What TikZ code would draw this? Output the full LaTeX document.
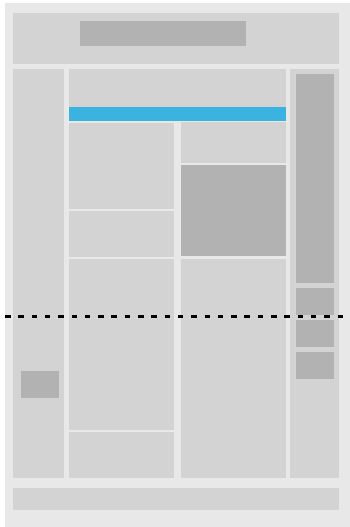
\documentclass[tikz,border=0pt]{standalone}
\definecolor{bgc}{HTML}{E8E8E8}
\definecolor{panel}{HTML}{D3D3D3}
\definecolor{darkp}{HTML}{B2B2B2}
\definecolor{bluebar}{HTML}{3BB3E0}
\begin{document}
\begin{tikzpicture}[x=1pt,y=-1pt,
  bg/.style={fill=bgc},
  pnl/.style={fill=panel},
  dk/.style={fill=darkp},
  bl/.style={fill=bluebar},
  cutline/.style={draw=black,line width=3pt,dash pattern=on 5.5pt off 7.8pt}]
\useasboundingbox (0,0) rectangle (350,527);
\fill[white] (0,0) rectangle (350,527);
\fill[bg] (5,3) rectangle (350,527);
% header
\fill[pnl] (13,13) rectangle (339,64);
\fill[dk] (80,21) rectangle (246,46);
% left column
\fill[pnl] (13,69) rectangle (64,478);
\fill[dk] (21,371) rectangle (59,398);
% middle top
\fill[pnl] (69,69) rectangle (286,107);
\fill[bl] (69,107) rectangle (286,121);
% middle left
\fill[pnl] (69,123) rectangle (174,209);
\fill[pnl] (69,211) rectangle (174,257);
\fill[pnl] (69,259) rectangle (174,430);
\fill[pnl] (69,432) rectangle (174,478);
% middle right
\fill[pnl] (181,122) rectangle (286,163);
\fill[dk] (181,165) rectangle (286,256);
\fill[pnl] (181,259) rectangle (286,478);
% right column
\fill[pnl] (290,69) rectangle (339,478);
\fill[dk] (296,74) rectangle (334,283);
\fill[dk] (296,288) rectangle (334,315);
\fill[dk] (296,320) rectangle (334,347);
\fill[dk] (296,352) rectangle (334,379);
% footer
\fill[pnl] (13,488) rectangle (339,510);
% fold line
\coordinate (fl) at (5,316);
\coordinate (fr) at (350,316);
\draw[cutline] (fl) -- (fr);
\end{tikzpicture}
\end{document}
